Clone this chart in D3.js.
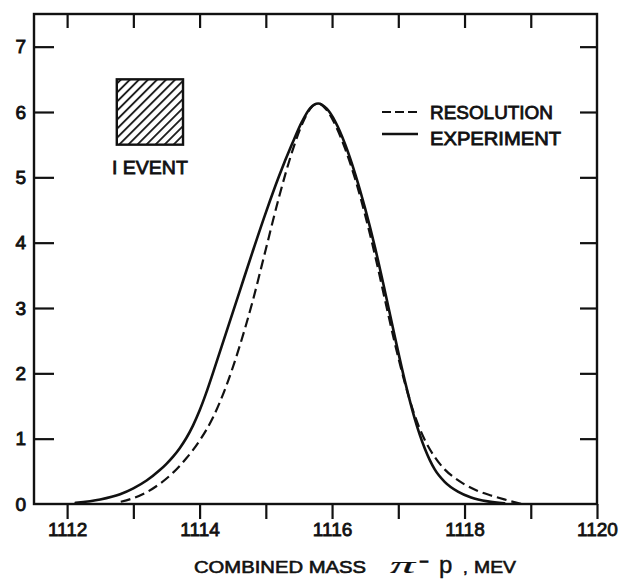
<!DOCTYPE html>
<html>
<head>
<meta charset="utf-8">
<script src="https://cdn.jsdelivr.net/npm/d3@7"></script>
<style>
  html, body { margin: 0; padding: 0; background: #fff; }
  svg { display: block; }
  text { font-family: "Liberation Sans", Arial, sans-serif; fill: #111; }
</style>
</head>
<body>
<div id="chart"></div>
<script>
// ---- data ----
const xTicks = [1112, 1113, 1114, 1115, 1116, 1117, 1118, 1119, 1120];
const xTickLabels = [1112, 1114, 1116, 1118, 1120];
const yTicks = [0, 1, 2, 3, 4, 5, 6, 7];

// EXPERIMENT (solid) curve
const expMass = [1112.13, 1112.5, 1112.8, 1113.0, 1113.2, 1113.4, 1113.5, 1113.6, 1113.7, 1113.8,
                 1113.9, 1114.0, 1114.1, 1114.2, 1114.4, 1114.6, 1114.8, 1115.0, 1115.2, 1115.4,
                 1115.55, 1115.67, 1115.79,
                 1115.92, 1116.05, 1116.2, 1116.35, 1116.5, 1116.65, 1116.8, 1116.95, 1117.1, 1117.25,
                 1117.4, 1117.55, 1117.7, 1117.9, 1118.1, 1118.35, 1118.6];
const expCount = [0.02, 0.07, 0.15, 0.24, 0.36, 0.52, 0.615, 0.725, 0.855, 1.01,
                  1.2, 1.43, 1.70, 2.0, 2.62, 3.24, 3.86, 4.46, 5.02, 5.52,
                  5.86, 6.06, 6.13,
                  6.05, 5.85, 5.5, 5.05, 4.52, 3.92, 3.25, 2.55, 1.88, 1.3,
                  0.85, 0.53, 0.34, 0.19, 0.10, 0.04, 0.01];

// RESOLUTION (dashed) curve
const resMass = [1112.81, 1113.0, 1113.2, 1113.4, 1113.6, 1113.8, 1114.0, 1114.2, 1114.4, 1114.6,
                 1114.8, 1115.0, 1115.2, 1115.4, 1115.55, 1115.67, 1115.79,
                 1115.92, 1116.05, 1116.2, 1116.35, 1116.5, 1116.65, 1116.8, 1116.95, 1117.1, 1117.25,
                 1117.4, 1117.55, 1117.7, 1117.85, 1118.0, 1118.2, 1118.4, 1118.6, 1118.86];
const resCount = [0.035, 0.09, 0.18, 0.31, 0.48, 0.70, 0.97, 1.32, 1.8, 2.4,
                  3.1, 3.9, 4.7, 5.4, 5.82, 6.05, 6.13,
                  6.03, 5.8, 5.43, 4.97, 4.42, 3.8, 3.12, 2.45, 1.85, 1.35,
                  0.98, 0.72, 0.53, 0.40, 0.30, 0.20, 0.13, 0.07, 0.0];

// one-event box (1 MeV x 1 count)
const eventBoxX = [1112.75, 1113.75];
const eventBoxY = [5.5, 6.5];

const legendLabels = ["RESOLUTION", "EXPERIMENT"];

// ---- layout ----
const W = 621, H = 582;
const m = { left: 34, right: 24, top: 14, bottom: 78 };

const svg = d3.select("#chart").append("svg").attr("width", W).attr("height", H);

const x = d3.scaleLinear().domain([1111.5, 1120]).range([m.left, W - m.right]);
const y = d3.scaleLinear().domain([0, 7.5]).range([H - m.bottom, m.top]);

const ink = "#111";

// hatch pattern
const defs = svg.append("defs");
defs.append("pattern")
  .attr("id", "hatch").attr("patternUnits", "userSpaceOnUse")
  .attr("width", 6.4).attr("height", 6.4)
  .attr("patternTransform", "rotate(45)")
  .append("line").attr("x1", 1).attr("y1", 0).attr("x2", 1).attr("y2", 6.4)
  .attr("stroke", ink).attr("stroke-width", 1.8);

// frame
svg.append("rect")
  .attr("x", x(1111.5)).attr("y", y(7.5))
  .attr("width", x(1120) - x(1111.5)).attr("height", y(0) - y(7.5))
  .attr("fill", "none").attr("stroke", ink).attr("stroke-width", 2.4);

function styleAxis(g) {
  g.select(".domain").remove();
  g.selectAll(".tick line").attr("stroke", ink).attr("stroke-width", 2.2);
}

// bottom axis: outward ticks
const gB = svg.append("g").attr("transform", `translate(0,${y(0)})`)
  .call(d3.axisBottom(x).tickValues(xTicks).tickSize(15)
        .tickFormat(d => xTickLabels.includes(d) ? String(d) : ""));
styleAxis(gB);
gB.selectAll(".tick text")
  .attr("y", 19).attr("dy", "0.71em")
  .style("font-size", "19px").style("font-family", "'Liberation Sans', Arial, sans-serif")
  .attr("fill", ink).attr("stroke", ink).attr("stroke-width", 0.8);

// top axis: inward ticks
const gT = svg.append("g").attr("transform", `translate(0,${y(7.5)})`)
  .call(d3.axisTop(x).tickValues(xTicks.filter(d => d < 1120)).tickSize(-14).tickFormat(""));
styleAxis(gT);

// left axis: inward ticks
const gL = svg.append("g").attr("transform", `translate(${x(1111.5)},0)`)
  .call(d3.axisLeft(y).tickValues(yTicks).tickSizeInner(-20).tickPadding(8).tickFormat(d3.format("d")));
styleAxis(gL);
gL.selectAll(".tick line").filter(d => d === 0).remove();
gL.selectAll(".tick text")
  .style("font-size", "19px").style("font-family", "'Liberation Sans', Arial, sans-serif")
  .attr("fill", ink).attr("stroke", ink).attr("stroke-width", 0.9);

// right axis: inward ticks
const gR = svg.append("g").attr("transform", `translate(${x(1120)},0)`)
  .call(d3.axisRight(y).tickValues(yTicks.filter(d => d > 0)).tickSize(-17).tickFormat(""));
styleAxis(gR);

// curves
const line = d3.line().x(d => x(d[0])).y(d => y(d[1])).curve(d3.curveMonotoneX);
const expData = expMass.map((v, i) => [v, expCount[i]]);
const resData = resMass.map((v, i) => [v, resCount[i]]);

svg.append("path").datum(resData).attr("d", line)
  .attr("fill", "none").attr("stroke", ink).attr("stroke-width", 2.2)
  .attr("stroke-dasharray", "10,5");
svg.append("path").datum(expData).attr("d", line)
  .attr("fill", "none").attr("stroke", ink).attr("stroke-width", 2.6)
  .attr("stroke-linecap", "round");

// one-event box
svg.append("rect")
  .attr("x", x(eventBoxX[0])).attr("y", y(eventBoxY[1]))
  .attr("width", x(eventBoxX[1]) - x(eventBoxX[0]))
  .attr("height", y(eventBoxY[0]) - y(eventBoxY[1]))
  .attr("fill", "url(#hatch)").attr("stroke", ink).attr("stroke-width", 2.4);
svg.append("text")
  .attr("x", (x(eventBoxX[0]) + x(eventBoxX[1])) / 2).attr("y", y(eventBoxY[0]) + 29)
  .attr("text-anchor", "middle")
  .attr("textLength", 76).attr("lengthAdjust", "spacingAndGlyphs")
  .style("font-size", "19px").attr("stroke", ink).attr("stroke-width", 0.8)
  .text("I EVENT");

// legend
const lg = svg.append("g");
legendLabels.forEach((lab, i) => {
  const yy = i === 0 ? 112 : 134;
  lg.append("line").attr("x1", 382).attr("x2", 418).attr("y1", yy).attr("y2", yy)
    .attr("stroke", ink).attr("stroke-width", i === 0 ? 2 : 2.3)
    .attr("stroke-dasharray", i === 0 ? "9,4" : null);
  lg.append("text").attr("x", 430).attr("y", i === 0 ? 118.5 : 145)
    .attr("textLength", i === 0 ? 123 : 131).attr("lengthAdjust", "spacingAndGlyphs")
    .style("font-size", "18px").attr("stroke", ink).attr("stroke-width", 0.8)
    .text(lab);
});

// x axis title
const tb = 573;
const tg = svg.append("g").attr("stroke", ink);
tg.append("text").attr("x", 194).attr("y", tb)
  .attr("textLength", 172).attr("lengthAdjust", "spacingAndGlyphs")
  .style("font-size", "17px").attr("stroke-width", 0.6).text("COMBINED MASS");
tg.append("text").attr("x", 390).attr("y", tb)
  .attr("textLength", 25).attr("lengthAdjust", "spacingAndGlyphs")
  .style("font-size", "24px").style("font-style", "italic")
  .style("font-family", "'Liberation Serif', serif").attr("stroke-width", 0.2).text("π");
tg.append("text").attr("x", 419).attr("y", tb - 7)
  .attr("textLength", 10).attr("lengthAdjust", "spacingAndGlyphs")
  .style("font-size", "16px").attr("stroke-width", 0.8).text("-");
tg.append("text").attr("x", 439).attr("y", tb)
  .style("font-size", "24px").attr("stroke-width", 0.4).text("p");
tg.append("text").attr("x", 463).attr("y", tb)
  .style("font-size", "17px").attr("stroke-width", 0.6).text(",");
tg.append("text").attr("x", 474).attr("y", tb)
  .attr("textLength", 42).attr("lengthAdjust", "spacingAndGlyphs")
  .style("font-size", "17px").attr("stroke-width", 0.6).text("MEV");
</script>
</body>
</html>
